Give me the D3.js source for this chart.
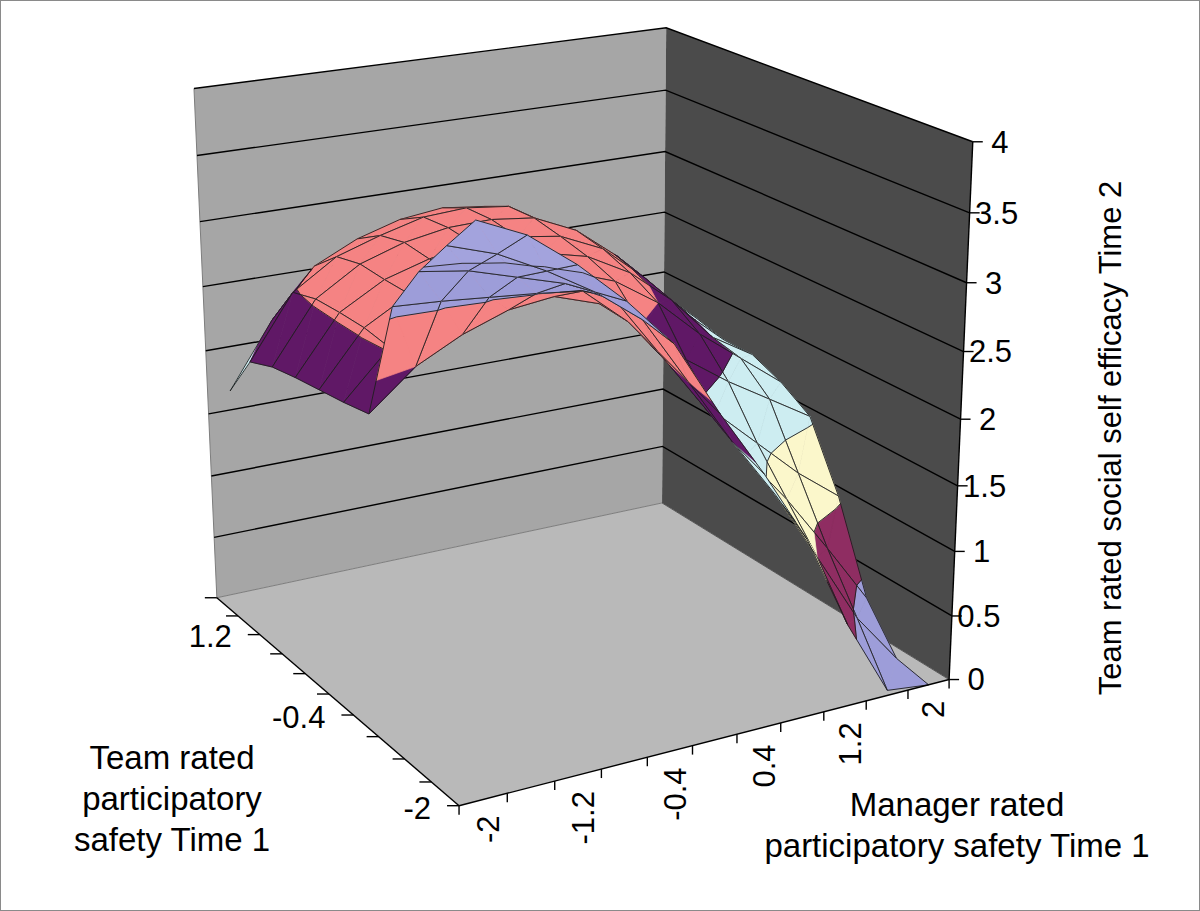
<!DOCTYPE html>
<html><head><meta charset="utf-8">
<script src="https://cdn.jsdelivr.net/npm/d3@7"></script>
<style>body{margin:0;background:#fff}svg{display:block}</style>
</head><body>
<svg id="chart" width="1200" height="911"></svg>
<script>
// ---------------- data ----------------
const managerCategories = [-2, -1.6, -1.2, -0.8, -0.4, 0, 0.4, 0.8, 1.2, 1.6, 2];
const managerTickLabels = ["-2", "-1.2", "-0.4", "0.4", "1.2", "2"];
const teamSeries = [-2, -1.6, -1.2, -0.8, -0.4, 0, 0.4, 0.8, 1.2, 1.6, 2];
const teamTickLabels = ["-2", "-0.4", "1.2"];
const valueTicks = [0, 0.5, 1, 1.5, 2, 2.5, 3, 3.5, 4];
// rows = team series (-2 .. 2), columns = manager categories (-2 .. 2)
const efficacyRows = [
  [4.00, 3.85, 3.60, 3.30, 2.95, 2.40, 1.90, 1.35, 0.63, 0.04, -0.30],
  [3.73, 3.62, 3.45, 3.25, 3.00, 2.50, 2.00, 1.54, 1.00, 0.45, 0.05],
  [3.45, 3.40, 3.30, 3.20, 3.05, 2.60, 2.15, 1.70, 1.30, 0.85, 0.38],
  [3.10, 3.08, 3.05, 3.02, 2.98, 2.70, 2.30, 1.90, 1.60, 1.30, 1.05],
  [2.22, 2.50, 2.67, 2.79, 2.83, 2.72, 2.48, 2.18, 1.95, 1.75, 1.55],
  [2.18, 2.52, 2.72, 2.84, 2.88, 2.84, 2.72, 2.50, 2.20, 1.95, 1.70],
  [2.15, 2.55, 2.74, 2.85, 2.90, 2.88, 2.80, 2.62, 2.35, 2.00, 1.80],
  [2.12, 2.55, 2.74, 2.84, 2.90, 2.90, 2.85, 2.70, 2.42, 2.08, 1.80],
  [2.08, 2.54, 2.75, 2.86, 2.92, 2.93, 2.89, 2.74, 2.48, 2.15, 1.86],
  [2.00, 2.48, 2.70, 2.81, 2.90, 2.92, 2.88, 2.68, 2.45, 2.20, 1.90],
  [1.65, 2.15, 2.52, 2.68, 2.78, 2.82, 2.78, 2.62, 2.42, 2.20, 1.84]
];
const bandColors = ["#9d9dd9", "#8f2d62", "#fbf7cb", "#cdedf1", "#601866", "#f58383", "#9d9dd9", "#a3a3dd"];

// ---------------- layout (plot box calibration) ----------------
const W = 1200, H = 911;
const boxAnchors = [
  {p: [0, 1, 0], s: [216, 597]}, {p: [1, 1, 0], s: [663, 503]},
  {p: [1, 0, 0], s: [948, 680]}, {p: [0, 0, 0], s: [460, 806]},
  {p: [0, 1, 1], s: [194, 89]},  {p: [1, 1, 1], s: [666, 28]},
  {p: [1, 0, 1], s: [973, 141]}
];
const FONT = "'Liberation Sans', Arial, 'DejaVu Sans', sans-serif";

function solveLS(A, b) {
  const n = A[0].length;
  const M = Array.from({length: n}, () => new Array(n + 1).fill(0));
  A.forEach((row, r) => {
    for (let i = 0; i < n; i++) {
      for (let j = 0; j < n; j++) M[i][j] += row[i] * row[j];
      M[i][n] += row[i] * b[r];
    }
  });
  for (let c = 0; c < n; c++) {
    let piv = c;
    for (let r = c + 1; r < n; r++) if (Math.abs(M[r][c]) > Math.abs(M[piv][c])) piv = r;
    [M[c], M[piv]] = [M[piv], M[c]];
    for (let r = 0; r < n; r++) {
      if (r === c) continue;
      const f = M[r][c] / M[c][c];
      for (let k = c; k <= n; k++) M[r][k] -= f * M[c][k];
    }
  }
  return M.map((row, i) => row[n] / row[i]);
}
const rowsA = [], rowsB = [];
boxAnchors.forEach(({p: [X, Y, Z], s: [u, v]}) => {
  rowsA.push([X, Y, Z, 1, 0, 0, 0, 0, -u * X, -u * Y, -u * Z]); rowsB.push(u);
  rowsA.push([0, 0, 0, 0, X, Y, Z, 1, -v * X, -v * Y, -v * Z]); rowsB.push(v);
});
const P = solveLS(rowsA, rowsB);
function project([X, Y, Z]) {
  const w = P[8] * X + P[9] * Y + P[10] * Z + 1;
  return [(P[0] * X + P[1] * Y + P[2] * Z + P[3]) / w, (P[4] * X + P[5] * Y + P[6] * Z + P[7]) / w, w];
}

// ---------------- scales ----------------
const xScale = d3.scalePoint().domain(managerCategories).range([0, 1]).padding(0.5);
const yScale = d3.scalePoint().domain(teamSeries).range([0, 1]);
const zScale = d3.scaleLinear().domain([0, 4]).range([0, 1]).clamp(true);

const svg = d3.select("#chart");
svg.append("rect").attr("width", W).attr("height", H).attr("fill", "#fff");
const line = d3.line();
const toScreen = p => project([p[0], p[1], zScale(p[2])]).slice(0, 2);
const P2 = pts => line(pts.map(p => project(p).slice(0, 2))) + "Z";

// walls and floor
svg.append("path").attr("d", P2([[0,1,0],[1,1,0],[1,1,1],[0,1,1]])).attr("fill", "#a6a6a6");
svg.append("path").attr("d", P2([[1,1,0],[1,0,0],[1,0,1],[1,1,1]])).attr("fill", "#4b4b4b");
svg.append("path").attr("d", P2([[0,1,0],[1,1,0],[1,0,0],[0,0,0]])).attr("fill", "#b9b9b9");
const edge = (a, b, col, w) => svg.append("path").attr("d", line([project(a).slice(0,2), project(b).slice(0,2)]))
  .attr("stroke", col).attr("stroke-width", w).attr("fill", "none");
edge([0,1,0],[0,1,1], "#7d7d7d", 1);
edge([0,1,0],[1,1,0], "#7d7d7d", 1);
edge([1,1,0],[1,0,0], "#555", 1);
valueTicks.filter(v => v > 0).forEach(v => {
  const z = zScale(v);
  svg.append("path").attr("d", line([[0,1,z],[1,1,z],[1,0,z]].map(p => project(p).slice(0,2))))
    .attr("fill", "none").attr("stroke", "#000").attr("stroke-width", 1.4);
});

// ---------------- surface ----------------
function clipPoly(poly, lo, hi) {
  const clip = (pts, keep, lerpT) => {
    const out = [];
    for (let i = 0; i < pts.length; i++) {
      const a = pts[i], b = pts[(i + 1) % pts.length];
      const ka = keep(a[2]), kb = keep(b[2]);
      if (ka) out.push(a);
      if (ka !== kb) {
        const t = lerpT(a[2], b[2]);
        out.push([a[0] + (b[0] - a[0]) * t, a[1] + (b[1] - a[1]) * t, a[2] + (b[2] - a[2]) * t]);
      }
    }
    return out;
  };
  let r = clip(poly, z => z >= lo, (a, b) => (lo - a) / (b - a));
  if (r.length < 3) return [];
  r = clip(r, z => z <= hi, (a, b) => (hi - a) / (b - a));
  return r.length < 3 ? [] : r;
}
function levelSegment(tri, level) {
  const pts = [];
  for (let i = 0; i < 3; i++) {
    const a = tri[i], b = tri[(i + 1) % 3];
    if ((a[2] - level) * (b[2] - level) < 0) {
      const t = (level - a[2]) / (b[2] - a[2]);
      pts.push([a[0] + (b[0] - a[0]) * t, a[1] + (b[1] - a[1]) * t, level]);
    }
  }
  return pts.length === 2 ? pts : null;
}
const bandEdges = valueTicks.filter(v => v > 0 && v < 4);
const cells = [];
for (let j = 0; j < teamSeries.length - 1; j++) {
  for (let i = 0; i < managerCategories.length - 1; i++) {
    const vals = [[i, j], [i + 1, j], [i + 1, j + 1], [i, j + 1]].map(([ii, jj]) => efficacyRows[jj][ii]);
    if (vals.some(v => v === null)) continue;
    const c = (ii, jj) => [xScale(managerCategories[ii]), yScale(teamSeries[jj]),
      Math.max(0, Math.min(4, efficacyRows[jj][ii]))];
    const p00 = c(i, j), p10 = c(i + 1, j), p11 = c(i + 1, j + 1), p01 = c(i, j + 1);
    const depth = d3.mean([p00, p10, p11, p01], p => project([p[0], p[1], zScale(p[2])])[2]);
    const tris = [[p00, p10, p11], [p00, p11, p01]];
    const pieces = [], contours = [];
    tris.forEach(tri => {
      d3.range(8).forEach(k => {
        const poly = clipPoly(tri, k * 0.5, (k + 1) * 0.5);
        if (poly.length) pieces.push({k, poly});
      });
      bandEdges.forEach(level => {
        const s = levelSegment(tri, level);
        if (s) contours.push(s);
      });
    });
    cells.push({depth, pieces, contours, outline: [p00, p10, p11, p01]});
  }
}
cells.sort((a, b) => b.depth - a.depth);
const surf = svg.append("g").attr("stroke-linejoin", "round");
cells.forEach(cell => {
  cell.pieces.forEach(({k, poly}) => {
    surf.append("path")
      .attr("d", line(poly.map(toScreen)) + "Z")
      .attr("fill", bandColors[k]).attr("stroke", bandColors[k]).attr("stroke-width", 0.7);
  });
  cell.contours.forEach(s => {
    surf.append("path").attr("d", line(s.map(toScreen)))
      .attr("fill", "none").attr("stroke", "#1e1e1e").attr("stroke-width", 0.9);
  });
  surf.append("path").attr("d", line(cell.outline.map(toScreen)) + "Z")
    .attr("fill", "none").attr("stroke", "#1e1e1e").attr("stroke-width", 0.9);
});

// ---------------- axes ----------------
const ax = svg.append("g");
const seg = (a, b) => ax.append("path").attr("d", line([a, b])).attr("stroke", "#000").attr("stroke-width", 1.4).attr("fill", "none");
seg(project([0,0,0]).slice(0,2), project([1,0,0]).slice(0,2));
seg(project([0,0,0]).slice(0,2), project([0,1,0]).slice(0,2));
seg(project([1,0,0]).slice(0,2), project([1,0,1]).slice(0,2));
d3.range(managerCategories.length + 1).forEach(k => {
  const [u, v] = project([k / managerCategories.length, 0, 0]);
  seg([u, v], [u, v + 9]);
});
teamSeries.forEach(t => {
  const [u, v] = project([0, yScale(t), 0]);
  seg([u, v], [u - 12, v]);
});
valueTicks.forEach(t => {
  const [u, v] = project([1, 0, zScale(t)]);
  seg([u, v], [u + 10, v]);
});
const txt = (x, y, s, size, anchor, rot) => ax.append("text")
  .attr("transform", `translate(${x},${y})` + (rot ? ` rotate(${rot})` : ""))
  .attr("text-anchor", anchor).attr("dy", "0.35em").attr("font-family", FONT).attr("font-size", size)
  .attr("fill", "#000").text(s);
managerTickLabels.forEach(s => {
  const [u, v] = project([xScale(+s), 0, 0]);
  txt(u + 5, v + 16, s, 31, "end", -90);
});
teamTickLabels.forEach(s => {
  const [u, v] = project([0, yScale(+s), 0]);
  txt(u - 28, v + 2, s, 31, "end");
});
valueTicks.forEach(t => {
  const [u, v] = project([1, 0, zScale(t)]);
  txt(u + 27, v, String(t), 31, "middle");
});
const title = (lines, x, y0, lh) => lines.forEach((s, i) => txt(x, y0 + i * lh, s, 33, "middle"));
title(["Team rated", "participatory", "safety Time 1"], 172, 757, 41);
title(["Manager rated", "participatory safety Time 1"], 957, 804, 41);
txt(1110, 438, "Team rated social self efficacy Time 2", 31, "middle", -90);

svg.append("rect").attr("x", 0.5).attr("y", 0.5).attr("width", W - 1).attr("height", H - 1)
  .attr("fill", "none").attr("stroke", "#8a8a8a").attr("stroke-width", 1);
</script>
</body></html>
